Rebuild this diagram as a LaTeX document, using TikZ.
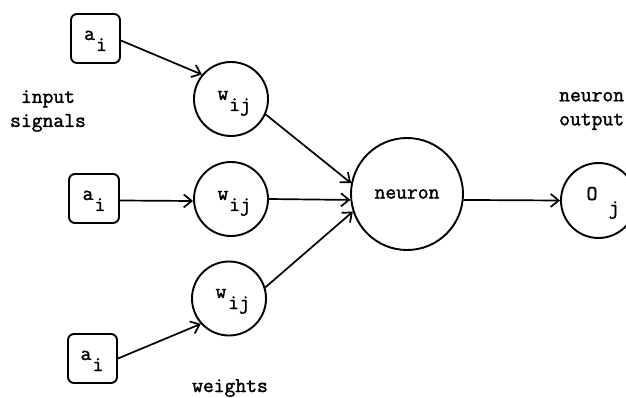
\documentclass[tikz,border=0pt]{standalone}
\usepackage{fontspec}
\newfontfamily\typeface{Latin Modern Mono}[FakeBold=1.6]
\usetikzlibrary{arrows.meta}

\tikzset{
  unit/.style={x=1pt, y=-1pt},
  inbox/.style={draw, line width=1.9pt, rounded corners=6pt, minimum width=49pt, minimum height=49pt, inner sep=0pt},
  weightnode/.style={draw, circle, line width=1.9pt, minimum size=74pt, inner sep=0pt},
  bignode/.style={draw, circle, line width=1.9pt, minimum size=112pt, inner sep=0pt},
  txt/.style={inner sep=0pt, font=\fontsize{21}{24}\selectfont\typeface},
  sym/.style={txt, anchor=base},
  link/.style={line width=1.7pt, -{Straight Barb[length=8pt, width=13pt, line width=1.7pt]}},
}

\begin{document}
\begin{tikzpicture}[unit]
  \clip (0,0) rectangle (626,398);
  \fill[white] (0,0) rectangle (626,398);

  % input signal boxes
  \node[inbox] (a1) at (95.5,38.5) {};
  \node[inbox, minimum width=50pt] (a2) at (94,198.5) {};
  \node[inbox] (a3) at (92.5,358.5) {};

  % weight circles
  \node[weightnode] (w1) at (231,99) {};
  \node[weightnode] (w2) at (231,199) {};
  \node[weightnode] (w3) at (229,298.5) {};

  % neuron and its output
  \node[bignode] (n) at (407,194) {};
  \node[weightnode, minimum size=75pt] (o) at (598.5,200.5) {};

  % symbols inside the shapes
  \node[sym] (a1s) at (89.5,40) {a};
  \node[sym] (a1i) at (101.5,51) {i};
  \node[sym] (a2s) at (88,200) {a};
  \node[sym] (a2i) at (100,211) {i};
  \node[sym] (a3s) at (86,360) {a};
  \node[sym] (a3i) at (98,371) {i};

  \node[sym] (w1s) at (223,100) {w};
  \node[sym] (w1i) at (240,111) {ij};
  \node[sym] (w2s) at (223,200) {w};
  \node[sym] (w2i) at (240,211) {ij};
  \node[sym] (w3s) at (221,298) {w};
  \node[sym] (w3i) at (239,309) {ij};

  \node[txt] (nl) at (n.center) {neuron};
  \node[sym] (os) at (592,200) {O};
  \node[sym] (oj) at (614,214) {j};

  % captions
  \node[txt, align=center] (inlab) at (48,111) {input\\signals};
  \node[txt, align=left, anchor=west] (outlab) at (559,111) {neuron\\output};
  \node[txt] (wlab) at (230,388) {weights};

  % connections
  \draw[link] ([yshift=-2pt]a1.east) -- (w1.140);
  \draw[link] ([yshift=-2pt]a2.east) -- ([yshift=-2pt]w2.west);
  \draw[link] (a3.east) -- (w3.222);
  \draw (w1.-24) edge[link] (n.169);
  \draw (w2.east) edge[link] (n.186);
  \draw (w3.17) edge[link] (n.198);
  \draw[link] (n.-6) -- (o.west);
\end{tikzpicture}
\end{document}
